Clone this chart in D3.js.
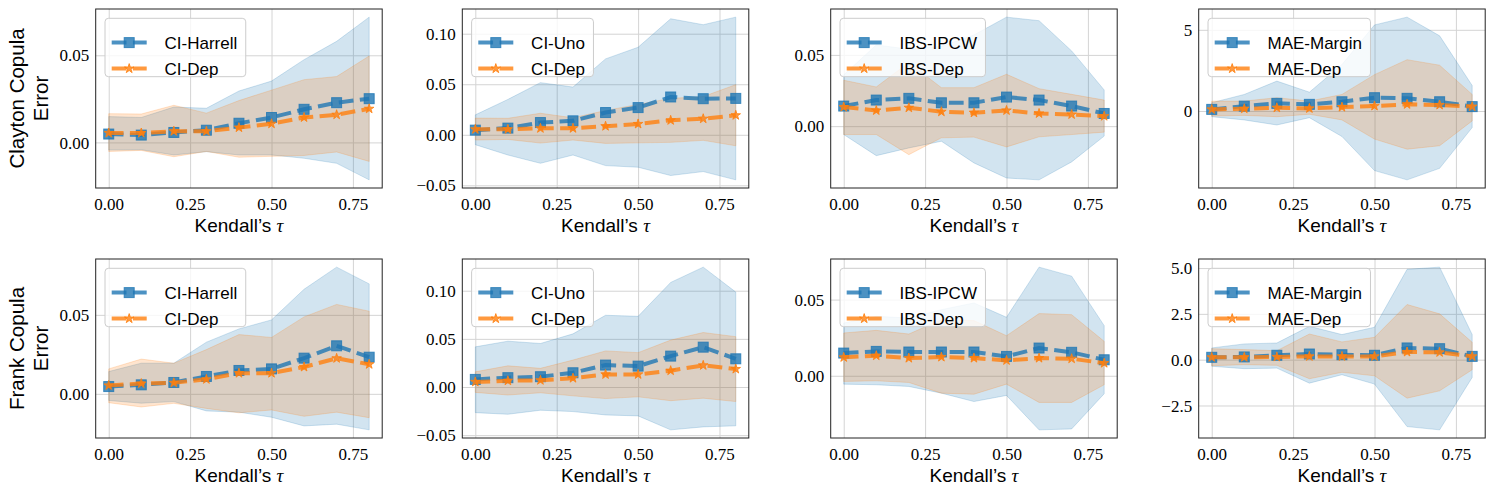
<!DOCTYPE html>
<html>
<head>
<meta charset="utf-8">
<script src="https://cdn.jsdelivr.net/npm/d3@7"></script>
<style>
body { margin: 0; background: #fff; }
</style>
</head>
<body>
<script>
// Kendall's tau grid
const taus = [0, 0.1, 0.2, 0.3, 0.4, 0.5, 0.6, 0.7, 0.8];
const xTicks = [0, 0.25, 0.5, 0.75];

// ---- Clayton copula ----
const clHarrellMean = [0.0048, 0.0042, 0.0057, 0.0070, 0.0110, 0.0143, 0.0190, 0.0228, 0.0251];
const clHarrellLo   = [-0.0044, -0.0042, -0.0072, -0.0053, -0.0072, -0.0072, -0.0091, -0.0120, -0.0215];
const clHarrellHi   = [0.0148, 0.0143, 0.0203, 0.0196, 0.0295, 0.0352, 0.0475, 0.0580, 0.0719];

const clUnoMean = [0.0046, 0.0066, 0.0121, 0.0138, 0.0220, 0.0269, 0.0374, 0.0357, 0.0360];
const clUnoLo   = [-0.0098, -0.0200, -0.0282, -0.0200, -0.0305, -0.0321, -0.0403, -0.0364, -0.0446];
const clUnoHi   = [0.0197, 0.0350, 0.0516, 0.0472, 0.0751, 0.0866, 0.1148, 0.1089, 0.1164];

const clCiDepMean = [0.0054, 0.0054, 0.0064, 0.0064, 0.0085, 0.0107, 0.0143, 0.0159, 0.0193];
const clCiDepLo   = [-0.0052, -0.0046, -0.0082, -0.0052, -0.0085, -0.0080, -0.0075, -0.0055, -0.0109];
const clCiDepHi   = [0.0165, 0.0163, 0.0213, 0.0168, 0.0240, 0.0300, 0.0360, 0.0378, 0.0496];

const clIpcwMean = [0.0141, 0.0183, 0.0195, 0.0164, 0.0164, 0.0204, 0.0183, 0.0141, 0.0089];
const clIpcwLo   = [-0.0059, -0.0207, -0.0153, -0.0106, -0.0258, -0.0364, -0.0377, -0.0251, -0.0070];
const clIpcwHi   = [0.0360, 0.0570, 0.0540, 0.0560, 0.0640, 0.0765, 0.0740, 0.0528, 0.0254];

const clIbsDepMean = [0.0134, 0.0110, 0.0129, 0.0101, 0.0094, 0.0110, 0.0089, 0.0082, 0.0070];
const clIbsDepLo   = [-0.0059, -0.0059, -0.0200, -0.0082, -0.0077, -0.0146, -0.0075, -0.0059, -0.0042];
const clIbsDepHi   = [0.0322, 0.0275, 0.0446, 0.0270, 0.0270, 0.0364, 0.0263, 0.0223, 0.0183];

const clMarginMean = [0.10, 0.30, 0.47, 0.41, 0.57, 0.82, 0.78, 0.57, 0.27];
const clMarginLo   = [-0.35, -0.55, -0.86, -0.41, -1.57, -3.67, -4.24, -3.53, -1.02];
const clMarginHi   = [0.51, 1.02, 1.84, 1.16, 2.86, 5.30, 5.78, 4.63, 1.57];

const clMaeDepMean = [0.10, 0.14, 0.20, 0.16, 0.24, 0.31, 0.41, 0.37, 0.27];
const clMaeDepLo   = [-0.31, -0.27, -0.35, -0.20, -0.55, -1.73, -2.35, -2.14, -0.61];
const clMaeDepHi   = [0.61, 0.61, 0.82, 0.61, 1.02, 2.24, 3.16, 2.82, 1.02];

// ---- Frank copula ----
const frHarrellMean = [0.0046, 0.0057, 0.0072, 0.0110, 0.0148, 0.0158, 0.0226, 0.0304, 0.0232];
const frHarrellLo   = [-0.0042, -0.0059, -0.0049, -0.0108, -0.0116, -0.0148, -0.0203, -0.0192, -0.0228];
const frHarrellHi   = [0.0141, 0.0194, 0.0194, 0.0327, 0.0411, 0.0468, 0.0662, 0.0802, 0.0696];

const frUnoMean = [0.0079, 0.0097, 0.0107, 0.0148, 0.0228, 0.0217, 0.0321, 0.0414, 0.0293];
const frUnoLo   = [-0.0266, -0.0283, -0.0241, -0.0255, -0.0290, -0.0300, -0.0445, -0.0414, -0.0403];
const frUnoHi   = [0.0417, 0.0476, 0.0452, 0.0552, 0.0745, 0.0734, 0.1086, 0.1245, 0.0986];

const frCiDepMean = [0.0053, 0.0065, 0.0070, 0.0092, 0.0131, 0.0131, 0.0170, 0.0225, 0.0187];
const frCiDepLo   = [-0.0056, -0.0083, -0.0060, -0.0092, -0.0120, -0.0102, -0.0142, -0.0116, -0.0151];
const frCiDepHi   = [0.0158, 0.0220, 0.0194, 0.0280, 0.0375, 0.0357, 0.0487, 0.0566, 0.0523];

const frIpcwMean = [0.0149, 0.0160, 0.0156, 0.0156, 0.0156, 0.0127, 0.0182, 0.0154, 0.0105];
const frIpcwLo   = [-0.0055, -0.0059, -0.0070, -0.0114, -0.0169, -0.0129, -0.0355, -0.0349, -0.0118];
const frIpcwHi   = [0.0346, 0.0390, 0.0379, 0.0434, 0.0478, 0.0384, 0.0713, 0.0654, 0.0329];

const frIbsDepMean = [0.0121, 0.0132, 0.0116, 0.0123, 0.0116, 0.0101, 0.0116, 0.0112, 0.0083];
const frIbsDepLo   = [-0.0037, -0.0033, -0.0044, -0.0114, -0.0121, -0.0055, -0.0175, -0.0175, -0.0059];
const frIbsDepHi   = [0.0281, 0.0298, 0.0274, 0.0368, 0.0362, 0.0263, 0.0408, 0.0401, 0.0226];

const frMarginMean = [0.13, 0.15, 0.24, 0.31, 0.27, 0.24, 0.64, 0.60, 0.18];
const frMarginLo   = [-0.36, -0.49, -0.46, -1.28, -0.82, -1.33, -3.65, -3.83, -0.97];
const frMarginHi   = [0.64, 0.86, 0.91, 1.82, 1.37, 1.77, 4.93, 5.05, 1.37];

const frMaeDepMean = [0.13, 0.13, 0.15, 0.18, 0.18, 0.18, 0.42, 0.40, 0.18];
const frMaeDepLo   = [-0.33, -0.27, -0.31, -1.04, -0.69, -0.88, -2.10, -1.70, -0.55];
const frMaeDepHi   = [0.60, 0.55, 0.49, 1.40, 0.97, 1.22, 3.01, 2.50, 0.95];

const rowLabels = ["Clayton Copula", "Frank Copula"];
const yTicksSmall = [0, 0.05];
const yTicksUno = [-0.05, 0, 0.05, 0.10];
const yTicksMaeCl = [0, 5];
const yTicksMaeFr = [-2.5, 0, 2.5, 5];

const panels = [
  { row: 0, col: 0, ticks: yTicksSmall, fmt: ".2f",
    a: ["CI-Harrell", clHarrellMean, clHarrellLo, clHarrellHi], b: ["CI-Dep", clCiDepMean, clCiDepLo, clCiDepHi] },
  { row: 0, col: 1, ticks: yTicksUno, fmt: ".2f",
    a: ["CI-Uno", clUnoMean, clUnoLo, clUnoHi], b: ["CI-Dep", clCiDepMean, clCiDepLo, clCiDepHi] },
  { row: 0, col: 2, ticks: yTicksSmall, fmt: ".2f",
    a: ["IBS-IPCW", clIpcwMean, clIpcwLo, clIpcwHi], b: ["IBS-Dep", clIbsDepMean, clIbsDepLo, clIbsDepHi] },
  { row: 0, col: 3, ticks: yTicksMaeCl, fmt: "d",
    a: ["MAE-Margin", clMarginMean, clMarginLo, clMarginHi], b: ["MAE-Dep", clMaeDepMean, clMaeDepLo, clMaeDepHi] },
  { row: 1, col: 0, ticks: yTicksSmall, fmt: ".2f",
    a: ["CI-Harrell", frHarrellMean, frHarrellLo, frHarrellHi], b: ["CI-Dep", frCiDepMean, frCiDepLo, frCiDepHi] },
  { row: 1, col: 1, ticks: yTicksUno, fmt: ".2f",
    a: ["CI-Uno", frUnoMean, frUnoLo, frUnoHi], b: ["CI-Dep", frCiDepMean, frCiDepLo, frCiDepHi] },
  { row: 1, col: 2, ticks: yTicksSmall, fmt: ".2f",
    a: ["IBS-IPCW", frIpcwMean, frIpcwLo, frIpcwHi], b: ["IBS-Dep", frIbsDepMean, frIbsDepLo, frIbsDepHi] },
  { row: 1, col: 3, ticks: yTicksMaeFr, fmt: ".1f",
    a: ["MAE-Margin", frMarginMean, frMarginLo, frMarginHi], b: ["MAE-Dep", frMaeDepMean, frMaeDepLo, frMaeDepHi] },
];

const W = 1495, H = 495;
const colLeft = [95.7, 462.3, 830.7, 1198.7];
const rowTop = [9, 259];
const axW = 286.5, axH = 179;
const blue = "#1f77b4", orange = "#ff7f0e";
const serif = "'Liberation Serif', 'DejaVu Serif', serif";
const sans = "'Liberation Sans', Arial, sans-serif";

const svg = d3.select("body").append("svg")
  .attr("width", W).attr("height", H)
  .style("display", "block");

const pad = (lo, hi) => { const p = (hi - lo) * 0.05; return [lo - p, hi + p]; };
const starPath = d3.symbol(d3.symbolStar, 28)();

function drawMarker(sel, kind, color) {
  if (kind === "square") {
    sel.append("rect").attr("x", -5).attr("y", -5).attr("width", 10).attr("height", 10)
      .attr("fill", color).attr("fill-opacity", 0.8)
      .attr("stroke", color).attr("stroke-opacity", 0.8).attr("stroke-width", 1);
  } else {
    sel.append("path").attr("d", starPath)
      .attr("fill", color).attr("fill-opacity", 0.8)
      .attr("stroke", color).attr("stroke-opacity", 0.8).attr("stroke-width", 1);
  }
}

panels.forEach(p => {
  const g = svg.append("g").attr("transform", `translate(${colLeft[p.col]},${rowTop[p.row]})`);
  const x = d3.scaleLinear().domain(pad(d3.min(taus), d3.max(taus))).range([0, axW]);
  const all = [...p.a[2], ...p.a[3], ...p.b[2], ...p.b[3]];
  const y = d3.scaleLinear().domain(pad(d3.min(all), d3.max(all))).range([axH, 0]);

  // grid
  const gx = g.append("g").attr("transform", `translate(0,${axH})`)
    .call(d3.axisBottom(x).tickValues(xTicks).tickSize(-axH).tickFormat(""));
  const gy = g.append("g")
    .call(d3.axisLeft(y).tickValues(p.ticks).tickSize(-axW).tickFormat(""));
  [gx, gy].forEach(a => {
    a.select(".domain").remove();
    a.selectAll("line").attr("stroke", "#d4d4d4").attr("stroke-width", 1);
  });

  // tick labels
  const xa = g.append("g").attr("transform", `translate(0,${axH})`)
    .call(d3.axisBottom(x).tickValues(xTicks).tickSize(0).tickPadding(8).tickFormat(d3.format(".2f")));
  const ya = g.append("g")
    .call(d3.axisLeft(y).tickValues(p.ticks).tickSize(0).tickPadding(6.5).tickFormat(d3.format(p.fmt)));
  [xa, ya].forEach(a => {
    a.select(".domain").remove();
    a.selectAll("text").attr("font-family", serif).attr("font-size", 17).attr("fill", "#000");
  });
  xa.selectAll("text").attr("dy", "0.8em");
  ya.selectAll("text").attr("dy", "0.33em");

  // bands
  [[p.a, blue], [p.b, orange]].forEach(([s, c]) => {
    const area = d3.area().x((d, i) => x(taus[i])).y0((d, i) => y(s[2][i])).y1((d, i) => y(s[3][i]));
    g.append("path").datum(taus).attr("d", area)
      .attr("fill", c).attr("fill-opacity", 0.2)
      .attr("stroke", c).attr("stroke-opacity", 0.2).attr("stroke-width", 1);
  });

  // lines + markers
  [[p.a, blue, "square"], [p.b, orange, "star"]].forEach(([s, c, m]) => {
    const line = d3.line().x((d, i) => x(taus[i])).y((d, i) => y(s[1][i]));
    g.append("path").datum(taus).attr("d", line)
      .attr("fill", "none").attr("stroke", c).attr("stroke-opacity", 0.8)
      .attr("stroke-width", 4).attr("stroke-dasharray", "14.8,6.4");
    g.append("g").selectAll("g").data(s[1]).join("g")
      .attr("transform", (d, i) => `translate(${x(taus[i])},${y(d)})`)
      .each(function () { drawMarker(d3.select(this), m, c); });
  });

  // spines
  g.append("rect").attr("width", axW).attr("height", axH)
    .attr("fill", "none").attr("stroke", "#222").attr("stroke-width", 1);

  // legend
  const lg = g.append("g").attr("transform", "translate(9.3,9.3)");
  const box = lg.append("rect").attr("rx", 3.5).attr("ry", 3.5)
    .attr("fill", "#fff").attr("fill-opacity", 0.8)
    .attr("stroke", "#cccccc").attr("stroke-width", 1);
  let maxW = 0;
  [[p.a, blue, "square"], [p.b, orange, "star"]].forEach(([s, c, m], k) => {
    const cy = 24.3 + k * 26;
    lg.append("line").attr("x1", 6.7).attr("x2", 41.7).attr("y1", cy).attr("y2", cy)
      .attr("stroke", c).attr("stroke-opacity", 0.8).attr("stroke-width", 4)
      .attr("stroke-dasharray", "14.8,6.4");
    drawMarker(lg.append("g").attr("transform", `translate(24.2,${cy})`), m, c);
    const t = lg.append("text").attr("x", 59.5).attr("y", cy + 6)
      .attr("font-family", sans).attr("font-size", 17).attr("fill", "#000").text(s[0]);
    maxW = Math.max(maxW, t.node().getComputedTextLength());
  });
  box.attr("width", 59.5 + maxW + 8.5).attr("height", 58.4);

  // x label
  const xl = g.append("text").attr("x", axW / 2).attr("y", axH + 43.5)
    .attr("text-anchor", "middle").attr("font-family", sans).attr("font-size", 19).attr("fill", "#000");
  xl.append("tspan").text("Kendall\u2019s ");
  xl.append("tspan").attr("font-family", serif).attr("font-style", "italic").text("\u03c4");

  // row label
  if (p.col === 0) {
    const yl = svg.append("text")
      .attr("transform", `translate(24,${rowTop[p.row] + axH / 2}) rotate(-90)`)
      .attr("text-anchor", "middle").attr("font-family", sans).attr("font-size", 20.5).attr("fill", "#000");
    yl.append("tspan").attr("x", 0).attr("y", 0).text(rowLabels[p.row]);
    yl.append("tspan").attr("x", 0).attr("y", 24).text("Error");
  }
});
</script>
</body>
</html>
